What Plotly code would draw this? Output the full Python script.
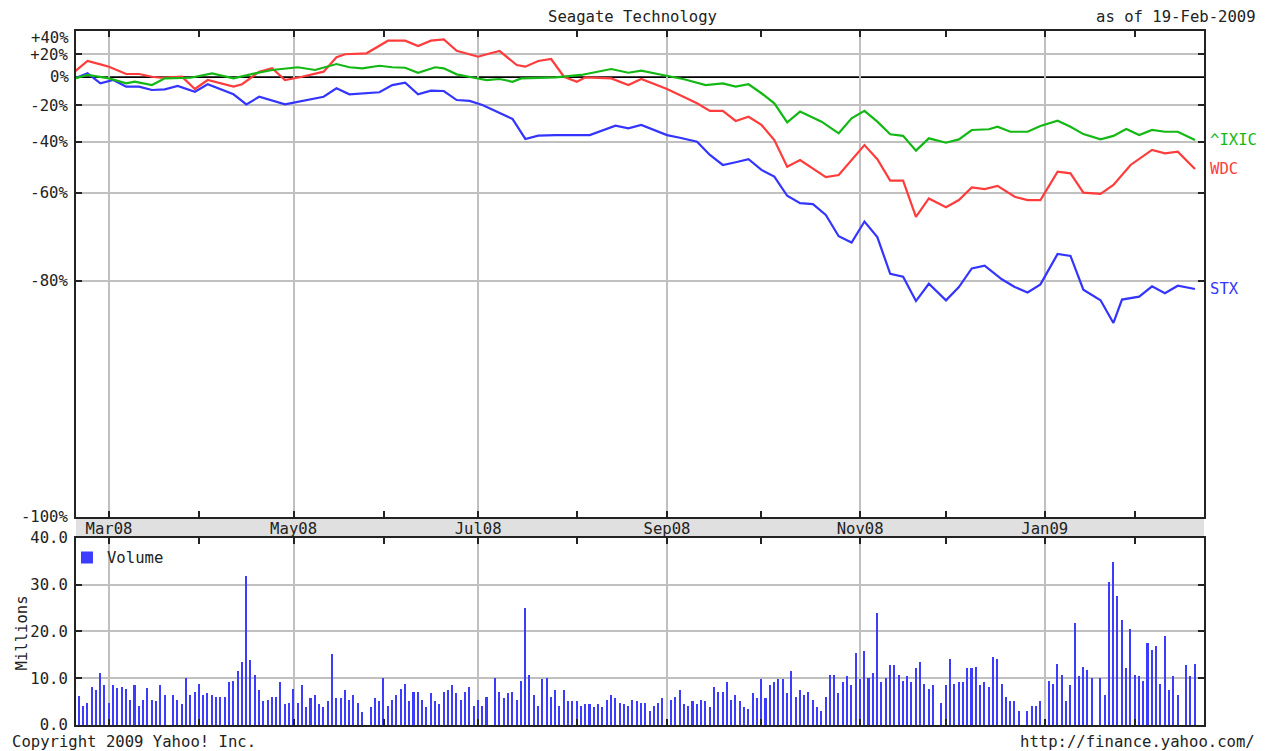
import math
import pandas as pd
import plotly.graph_objects as go

# ---------------- data ----------------
stx_dates = ["2008-02-20","2008-02-25","2008-02-28","2008-03-04","2008-03-07","2008-03-12","2008-03-17","2008-03-20",
             "2008-03-25","2008-03-31","2008-04-03","2008-04-11","2008-04-16","2008-04-21","2008-04-29","2008-05-05",
             "2008-05-12","2008-05-15","2008-05-20","2008-05-29","2008-06-03","2008-06-06","2008-06-11","2008-06-16",
             "2008-06-19","2008-06-24","2008-06-27","2008-07-02","2008-07-11","2008-07-16","2008-07-21","2008-07-25",
             "2008-08-06","2008-08-14","2008-08-19","2008-08-22","2008-09-01","2008-09-04","2008-09-10","2008-09-15",
             "2008-09-18","2008-09-23","2008-09-26","2008-10-01","2008-10-06","2008-10-09","2008-10-14","2008-10-17",
             "2008-10-22","2008-10-27","2008-10-30","2008-11-04","2008-11-07","2008-11-12","2008-11-17","2008-11-20",
             "2008-11-25","2008-12-01","2008-12-04","2008-12-09","2008-12-12","2008-12-18","2008-12-23","2008-12-26",
             "2008-12-31","2009-01-06","2009-01-09","2009-01-14","2009-01-20","2009-01-23","2009-01-27","2009-02-02",
             "2009-02-05","2009-02-10","2009-02-13","2009-02-19"]
stx_pct = [-1.0, 3.0, -4.8, -2.3, -7.3, -7.3, -9.7, -9.2,
           -6.8, -10.9, -5.5, -12.7, -19.4, -14.4, -19.4, -17.2,
           -14.4, -8.5, -12.7, -11.3, -6.1, -4.3, -12.7, -10.2,
           -10.4, -16.6, -17.2, -19.8, -28.2, -38.7, -37.1, -36.8,
           -36.8, -31.9, -33.3, -31.5, -36.8, -38.1, -40.0, -46.0,
           -50.1, -49.0, -47.8, -52.0, -54.5, -60.9, -63.1, -63.4,
           -66.4, -71.6, -73.0, -68.1, -71.8, -78.9, -79.4, -83.0,
           -80.5, -82.9, -81.0, -78.0, -77.5, -79.8, -81.0, -81.8,
           -80.6, -75.3, -75.7, -81.4, -82.9, -85.7, -82.8, -82.4,
           -80.9, -81.9, -80.8, -81.3]

wdc_dates = ["2008-02-20","2008-02-25","2008-02-28","2008-03-03","2008-03-07","2008-03-12","2008-03-17","2008-03-19",
             "2008-03-26","2008-03-31","2008-04-03","2008-04-11","2008-04-15","2008-04-21","2008-04-24","2008-04-29",
             "2008-05-05","2008-05-12","2008-05-15","2008-05-19","2008-05-26","2008-06-02","2008-06-06","2008-06-11",
             "2008-06-16","2008-06-19","2008-06-24","2008-06-27","2008-07-01","2008-07-03","2008-07-08","2008-07-14",
             "2008-07-16","2008-07-21","2008-07-24","2008-07-29","2008-08-01","2008-08-05","2008-08-13","2008-08-19",
             "2008-08-22","2008-09-01","2008-09-03","2008-09-10","2008-09-15","2008-09-18","2008-09-23","2008-09-26",
             "2008-10-01","2008-10-06","2008-10-09","2008-10-14","2008-10-22","2008-10-27","2008-11-04","2008-11-07",
             "2008-11-12","2008-11-17","2008-11-20","2008-11-25","2008-12-01","2008-12-04","2008-12-09","2008-12-12",
             "2008-12-17","2008-12-23","2008-12-26","2008-12-31","2009-01-06","2009-01-09","2009-01-14","2009-01-20",
             "2009-01-23","2009-01-29","2009-02-05","2009-02-10","2009-02-13","2009-02-19"]
wdc_pct = [4.4, 13.6, 10.6, 8.6, 2.5, 2.5, 0.3, -0.5,
           0.3, -9.0, -2.3, -7.3, -5.5, 4.4, 7.2, -2.3,
           0.3, 4.4, 17.0, 19.8, 20.7, 33.4, 33.4, 27.9,
           33.4, 34.8, 23.2, 19.8, 17.5, 19.8, 22.9, 10.0,
           8.6, 13.6, 15.4, 0.3, -3.6, -0.2, -1.0, -6.1,
           -1.5, -9.0, -12.0, -18.7, -23.5, -23.5, -29.3, -26.9,
           -31.5, -39.2, -50.8, -48.1, -54.7, -53.9, -41.6, -47.8,
           -55.9, -55.9, -66.9, -61.7, -64.3, -62.2, -58.2, -58.8,
           -57.7, -61.2, -62.2, -62.2, -52.7, -53.3, -59.9, -60.3,
           -57.4, -50.1, -43.8, -45.3, -44.6, -51.7]

ixic_dates = ["2008-02-20","2008-02-25","2008-03-03","2008-03-07","2008-03-11","2008-03-17","2008-03-20","2008-03-28",
              "2008-04-04","2008-04-11","2008-04-18","2008-04-24","2008-05-02","2008-05-08","2008-05-15","2008-05-20",
              "2008-05-23","2008-05-29","2008-06-03","2008-06-06","2008-06-11","2008-06-17","2008-06-19","2008-06-24",
              "2008-06-30","2008-07-03","2008-07-08","2008-07-11","2008-07-15","2008-07-25","2008-08-04","2008-08-13",
              "2008-08-19","2008-08-22","2008-08-29","2008-09-05","2008-09-12","2008-09-18","2008-09-23","2008-09-26",
              "2008-10-01","2008-10-06","2008-10-09","2008-10-14","2008-10-21","2008-10-27","2008-10-30","2008-11-04",
              "2008-11-07","2008-11-12","2008-11-17","2008-11-20","2008-11-25","2008-12-01","2008-12-04","2008-12-09",
              "2008-12-15","2008-12-17","2008-12-22","2008-12-26","2008-12-31","2009-01-06","2009-01-09","2009-01-14",
              "2009-01-20","2009-01-23","2009-01-28","2009-02-02","2009-02-05","2009-02-10","2009-02-13","2009-02-19"]
ixic_pct = [-1.0, 1.7, -1.0, -4.8, -3.6, -6.1, -1.0, -0.5,
            3.0, -1.0, 3.0, 5.8, 8.1, 5.8, 10.9, 8.1,
            7.2, 9.4, 8.1, 7.7, 3.5, 8.1, 7.2, 2.2,
            -0.5, -2.3, -1.5, -3.6, -1.0, -0.2, 1.7, 6.6,
            3.5, 5.2, 1.7, -1.7, -6.1, -4.8, -7.3, -5.5,
            -12.0, -18.7, -30.1, -23.9, -29.7, -35.9, -27.8, -23.4,
            -29.7, -36.4, -37.2, -44.1, -38.4, -40.5, -38.9, -34.2,
            -33.8, -32.5, -35.1, -35.1, -32.1, -29.2, -32.5, -36.3,
            -38.9, -37.2, -33.7, -36.8, -34.2, -35.1, -35.1, -39.2]

# Daily STX volume (millions), one list per month
vol_feb08 = [6.2, 4.1, 4.8, 8.1, 7.4, 11.1, 8.5]
vol_mar08 = [4.8, 8.5, 7.9, 8.1, 7.8, 5.4, 8.5, 4.1, 5.4, 7.9, 5.4, 5.1, 8.5, 6.5,
             6.5, 5.4, 4.5, 10.1, 6.5, 7.1]
vol_apr08 = [8.8, 6.5, 6.9, 6.5, 5.9, 6.1, 5.9, 9.1, 9.4, 11.5, 13.4, 31.9, 13.9, 10.8,
             7.4, 5.1, 5.4, 5.9, 5.9, 9.1, 4.5, 4.8]
vol_may08 = [7.8, 4.8, 8.5, 3.8, 5.8, 6.4, 4.5, 3.8, 5.1, 15.1, 5.8, 5.8, 7.4, 5.4, 6.5, 4.8, 2.8,
             3.8, 5.8, 5.1, 10.1]
vol_jun08 = [4.1, 5.4, 6.4, 7.8, 8.8, 5.1, 7.1, 7.1, 5.4, 3.8, 6.8, 5.1, 4.4, 7.1, 7.4,
             8.5, 6.8, 5.4, 7.1, 8.1, 4.1]
vol_jul08 = [5.4, 4.1, 6.1, 10.1, 7.1, 5.8, 6.8, 7.1, 5.4, 9.4, 25.1, 10.8, 6.4,
             4.1, 9.8, 10.1, 6.1, 7.4, 4.1, 7.4, 5.1, 5.1]
vol_aug08 = [5.1, 4.1, 4.4, 4.4, 3.8, 4.4, 3.8, 5.4, 6.4, 5.8, 4.8, 4.4, 4.1, 5.4, 5.1, 4.8,
             4.8, 3.1, 4.1, 4.8, 5.8]
vol_sep08 = [5.4, 6.1, 7.4, 4.4, 4.1, 5.1, 4.4, 5.4, 5.1, 3.8, 8.1, 7.1, 7.1, 9.1,
             5.4, 6.4, 5.1, 3.8, 3.4, 6.8, 5.8]
vol_oct08 = [9.8, 5.8, 8.5, 9.1, 9.8, 9.8, 6.8, 11.5, 6.1, 7.4, 6.4, 7.1, 5.4,
             3.8, 3.1, 6.1, 10.8, 10.8, 6.8, 9.1, 10.4, 8.5, 15.5]
vol_nov08 = [9.8, 15.9, 10.1, 11.1, 23.9, 9.1, 10.1, 12.8, 12.8, 10.8, 9.4, 10.4, 9.1, 12.1, 13.4,
             8.8, 7.8, 8.5, 4.8]
vol_dec08 = [8.5, 14.1, 8.8, 9.1, 9.1, 12.1, 12.1, 12.5, 8.5, 9.1, 8.1, 14.5, 14.1, 8.8, 6.1,
             5.1, 5.1, 3.1, 3.1, 4.1, 4.1, 5.1]
vol_jan09 = [9.4, 8.8, 13.1, 10.8, 5.1, 8.5, 21.8, 10.4, 12.5, 11.8, 10.1,
             10.1, 6.4, 30.6, 34.9, 27.5, 22.5, 12.1, 20.5, 10.8]
vol_feb09 = [10.4, 9.4, 17.5, 16.1, 16.9, 8.8, 19.1, 7.4, 10.4, 6.4, 12.8, 10.4, 13.1]

market_holidays = ["2008-03-21", "2008-05-26", "2008-07-04", "2008-09-01", "2008-11-27",
                   "2008-12-25", "2009-01-01", "2009-01-19", "2009-02-16"]

y_tick_values = [1.2, 0.8, 0.6, 0.4, 0.2]
y_tick_labels = ["+20%", "-20%", "-40%", "-60%", "-80%"]
vol_ticks = [0, 10, 20, 30, 40]

# ---------------- build ----------------
volume = (vol_feb08 + vol_mar08 + vol_apr08 + vol_may08 + vol_jun08 + vol_jul08 + vol_aug08 +
          vol_sep08 + vol_oct08 + vol_nov08 + vol_dec08 + vol_jan09 + vol_feb09)
trade_days = [d for d in pd.bdate_range("2008-02-21", "2009-02-19")
              if d.strftime("%Y-%m-%d") not in market_holidays]
assert len(trade_days) == len(volume), (len(trade_days), len(volume))

FONT = "DejaVu Sans Mono"
FS = 15.6
INK = "#222222"
GRID = "#c0c0c0"
RED = "#ff3c3c"
GREEN = "#14b814"
BLUE = "#3434ff"

LOG_BOTTOM = -1.5115
LOG_TOP = 0.1584
X_RANGE = ["2008-02-20 07:30", "2009-02-23 02:30"]
BREAKS = [dict(bounds=["sat", "mon"])]

series = [("STX", stx_dates, stx_pct, BLUE),
          ("WDC", wdc_dates, wdc_pct, RED),
          ("^IXIC", ixic_dates, ixic_pct, GREEN)]

fig = go.Figure()
for name, dts, pct, col in series:
    fig.add_trace(go.Scatter(x=dts, y=[1 + p / 100 for p in pct], mode="lines", name=name,
                             line=dict(color=col, width=2.2), xaxis="x", yaxis="y",
                             showlegend=False, hoverinfo="skip"))

fig.add_trace(go.Bar(x=trade_days, y=volume, name="Volume", xaxis="x2", yaxis="y2",
                     marker=dict(color="#3c3cff", line=dict(width=0)),
                     width=0.36 * 86400000, showlegend=True, hoverinfo="skip"))

axis_common = dict(ticks="inside", ticklen=6, tickwidth=2, tickcolor=INK,
                   showline=True, linecolor=INK, linewidth=2, mirror="allticks",
                   showgrid=True, gridcolor=GRID, gridwidth=2, zeroline=False,
                   automargin=False)

main_bottom = 0.2997
vol_top = 0.2695
# fractional height of the 0% level (ratio 1) inside the log-scaled panel
zero_frac = (0 - LOG_BOTTOM) / (LOG_TOP - LOG_BOTTOM)

minor_x = dict(dtick="M1", tick0="2008-01-01", ticks="inside", ticklen=6,
               tickwidth=2, tickcolor=INK, showgrid=False)

fig.update_layout(
    width=1268, height=751,
    margin=dict(l=76, r=64, t=31, b=26, autoexpand=False),
    paper_bgcolor="white", plot_bgcolor="white",
    font=dict(family=FONT, size=FS, color=INK),
    bargap=0,
    xaxis=dict(domain=[0, 1], anchor="y", type="date", range=X_RANGE, rangebreaks=BREAKS,
               tick0="2008-01-01", dtick="M2", tickformat="%b%y", minor=minor_x,
               ticklabelstandoff=-4,
               tickfont=dict(family=FONT, size=FS, color=INK), **axis_common),
    yaxis=dict(domain=[main_bottom, 1], anchor="x", type="log", range=[LOG_BOTTOM, LOG_TOP],
               tickvals=y_tick_values + [10 ** LOG_BOTTOM],
               ticktext=y_tick_labels + ["-100%"],
               ticklabelstandoff=3,
               tickfont=dict(family=FONT, size=FS, color=INK), **axis_common),
    xaxis2=dict(domain=[0, 1], anchor="y2", type="date", range=X_RANGE, rangebreaks=BREAKS,
                tick0="2008-01-01", dtick="M2", showticklabels=False, minor=minor_x,
                **axis_common),
    yaxis2=dict(domain=[0, vol_top], anchor="x2", range=[0, 40], tickvals=vol_ticks,
                tickformat=".1f", ticklabelstandoff=3,
                tickfont=dict(family=FONT, size=FS, color=INK), **axis_common),
    legend=dict(x=-0.008, y=vol_top - 0.004, xanchor="left", yanchor="top",
                bgcolor="rgba(0,0,0,0)", borderwidth=0, itemwidth=30,
                font=dict(family=FONT, size=FS, color=INK)),
    shapes=[
        dict(type="rect", xref="paper", yref="paper", x0=0, x1=1, y0=vol_top, y1=main_bottom,
             fillcolor="#e0e0e0", line=dict(width=0), layer="below"),
        dict(type="line", xref="x domain", x0=0, x1=1, yref="y domain", y0=zero_frac, y1=zero_frac,
             line=dict(color="#000000", width=1.6), layer="below"),
    ],
)

annotations = [
    dict(text="Seagate Technology", xref="paper", yref="paper", x=0.4934, y=1.0202,
         xanchor="center", yanchor="middle", showarrow=False),
    dict(text="as of 19-Feb-2009", xref="paper", yref="paper", x=1.0479, y=1.0202,
         xanchor="right", yanchor="middle", showarrow=False),
    dict(text="Copyright 2009 Yahoo! Inc.", xref="paper", yref="paper", x=-0.0585, y=-0.0245,
         xanchor="left", yanchor="middle", showarrow=False),
    dict(text="http://finance.yahoo.com/", xref="paper", yref="paper", x=1.047, y=-0.0245,
         xanchor="right", yanchor="middle", showarrow=False),
    dict(text="Millions", xref="paper", yref="paper", x=-0.0483, y=0.1326, textangle=-90,
         xanchor="center", yanchor="middle", showarrow=False),
    dict(text="+40%", xref="paper", yref="y", x=0, y=math.log10(1.4), xshift=-5, yshift=-3,
         xanchor="right", yanchor="middle", showarrow=False),
    dict(text="0%", xref="paper", yref="y", x=0, y=0, xshift=-5,
         xanchor="right", yanchor="middle", showarrow=False),
]
for name, dts, pct, col in series:
    annotations.append(dict(text=name, xref="paper", yref="y", x=1, xshift=4,
                            y=math.log10(1 + pct[-1] / 100), xanchor="left", yanchor="middle",
                            showarrow=False, font=dict(color=col, family=FONT, size=FS)))
fig.update_layout(annotations=annotations)

fig.write_html("out.html", config={"displayModeBar": False},
               post_script="document.body.style.margin='0';document.body.style.overflow='hidden';")
